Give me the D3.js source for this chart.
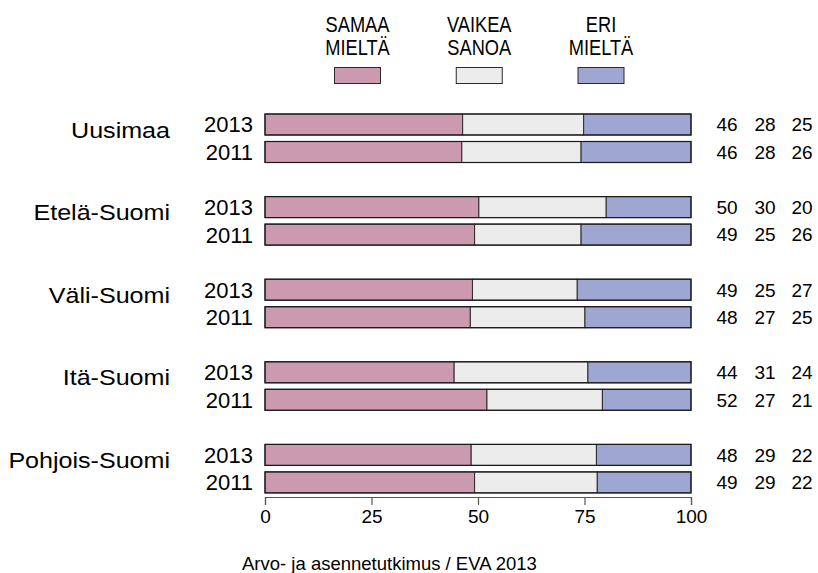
<!DOCTYPE html>
<html><head><meta charset="utf-8">
<script src="https://cdn.jsdelivr.net/npm/d3@7"></script>
<style>
html,body{margin:0;padding:0;background:#fff;}
svg text{font-family:"Liberation Sans",Arial,Helvetica,sans-serif;fill:#000;}
</style></head>
<body>
<svg id="chart" width="818" height="573"></svg>
<script>
const regions = ["Uusimaa", "Etelä-Suomi", "Väli-Suomi", "Itä-Suomi", "Pohjois-Suomi"];
const years = ["2013", "2011"];
// values per region: [2013, 2011]
const samaa  = [[46.4, 46.2], [50.2, 49.2], [48.7, 48.2], [44.4, 52.1], [48.4, 49.2]];
const vaikea = [[28.4, 28.0], [29.9, 25.0], [24.6, 26.9], [31.4, 27.1], [29.4, 28.8]];
const eri    = [[25.2, 25.8], [19.9, 25.8], [26.7, 24.9], [24.2, 20.8], [22.2, 22.0]];
const seriesKeys = ["samaa", "vaikea", "eri"];
const legendLines = [["SAMAA", "MIELTÄ"], ["VAIKEA", "SANOA"], ["ERI", "MIELTÄ"]];
const xTicks = [0, 25, 50, 75, 100];
const caption = "Arvo- ja asennetutkimus / EVA 2013";

const colors = {samaa: "#cc9aae", vaikea: "#ececec", eri: "#9ea6d2"};

const rows = [];
regions.forEach((r, i) => years.forEach((y, j) => {
  rows.push({region: r, year: y, samaa: samaa[i][j], vaikea: vaikea[i][j], eri: eri[i][j]});
}));

const svg = d3.select("#chart");
const x = d3.scaleLinear().domain([0, 100]).range([265, 691]);
const yOuter = d3.scaleBand().domain(regions).range([110.75, 110.75 + 5 * 82.6]).padding(0);
const yInner = d3.scaleBand().domain(years).range([0, 55]).paddingInner(6.5 / 27.5).paddingOuter(3.25 / 27.5);
const yPos = d => yOuter(d.region) + yInner(d.year);
const bh = yInner.bandwidth();

const stack = d3.stack().keys(seriesKeys)(rows);

svg.append("g").selectAll("g").data(stack).join("g")
  .attr("fill", s => colors[s.key])
  .selectAll("rect").data(s => s).join("rect")
  .attr("x", d => x(d[0]))
  .attr("width", d => x(d[1]) - x(d[0]))
  .attr("y", d => yPos(d.data))
  .attr("height", bh)
  .attr("stroke", "#2a2a2a").attr("stroke-width", 1);

// outline
svg.append("g").selectAll("rect").data(rows).join("rect")
  .attr("x", x(0)).attr("width", x(100) - x(0))
  .attr("y", d => yPos(d)).attr("height", bh)
  .attr("fill", "none").attr("stroke", "#1a1a1a").attr("stroke-width", 1.2);

// year labels
svg.append("g").selectAll("text").data(rows).join("text")
  .attr("x", 253).attr("y", d => yPos(d) + bh / 2)
  .attr("dy", "0.36em").attr("text-anchor", "end")
  .style("font-size", "22px").text(d => d.year);

// region labels (slightly widened glyphs as in the reference)
svg.append("g").selectAll("text").data(regions).join("text")
  .attr("transform", r => `translate(170,${yOuter(r) + 19}) scale(1.14,1)`)
  .attr("dy", "0.36em").attr("text-anchor", "end")
  .style("font-size", "22px").text(r => r);

// value labels
const numX = [727, 765, 802];
seriesKeys.forEach((k, i) => {
  svg.append("g").selectAll("text").data(rows).join("text")
    .attr("x", numX[i]).attr("y", d => yPos(d) + bh / 2)
    .attr("dy", "0.36em").attr("text-anchor", "middle")
    .style("font-size", "19px").text(d => Math.round(d[k]));
});

// axis
const axis = svg.append("g").attr("transform", "translate(0,497)")
  .call(d3.axisBottom(x).tickValues(xTicks).tickSize(8).tickPadding(5).tickFormat(d3.format("d")));
axis.select(".domain").attr("stroke", "#555").attr("stroke-width", 1.2);
axis.selectAll(".tick line").attr("stroke", "#555").attr("stroke-width", 1.2);
axis.selectAll(".tick text").style("font-size", "19px").style("font-family", "Liberation Sans, Arial, sans-serif").attr("fill", "#000");

// legend (narrowed glyphs as in the reference)
const legX = d3.scalePoint().domain(seriesKeys).range([357.5, 601]);
const leg = svg.append("g").selectAll("g").data(seriesKeys).join("g")
  .attr("transform", k => `translate(${legX(k)},0)`);
leg.append("text").attr("transform", "translate(0,31.5) scale(0.83,1)").attr("text-anchor", "middle")
  .style("font-size", "22px").text((k, i) => legendLines[i][0]);
leg.append("text").attr("transform", "translate(0,55) scale(0.83,1)").attr("text-anchor", "middle")
  .style("font-size", "22px").text((k, i) => legendLines[i][1]);
leg.append("rect").attr("x", -23).attr("y", 67.5).attr("width", 46).attr("height", 16)
  .attr("fill", k => colors[k]).attr("stroke", "#2a2a2a").attr("stroke-width", 1);

// caption
svg.append("text").attr("x", 242).attr("y", 570).style("font-size", "18.5px").text(caption);
</script>
</body></html>
